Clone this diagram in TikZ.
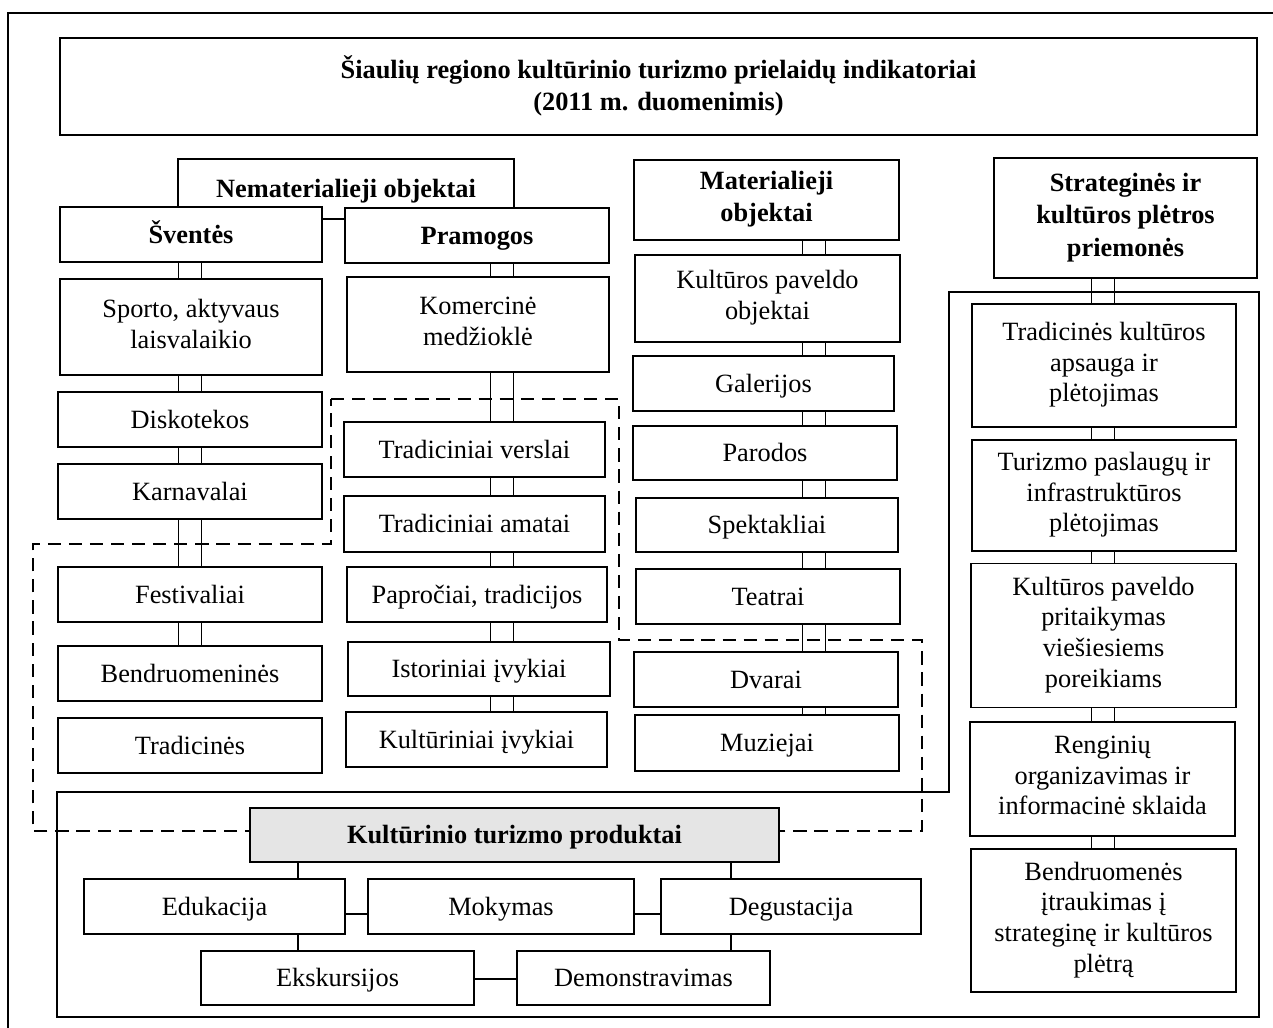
\documentclass[tikz,border=0pt]{standalone}
\usepackage{fontspec}
\setmainfont{Liberation Serif}
\usetikzlibrary{backgrounds}

\begin{document}
\begin{tikzpicture}[x=0.02cm, y=-0.02cm,
   bx/.style={draw, line width=1.1pt, fill=white, align=center, inner sep=0pt,
     font=\fontsize{15}{17.5}\selectfont,
     execute at begin node={\rule{0pt}{14pt}}, execute at end node={\rule[-4pt]{0pt}{4pt}}},
   hd/.style={bx, font=\fontsize{15}{18.5}\selectfont\bfseries},
   dbl/.style={draw, double, line width=1.1pt, double distance=12pt},
   ln/.style={draw, line width=1.1pt},
   grp/.style={draw, line width=1.5pt, dash pattern=on 7.5pt off 4.5pt},
   frm/.style={draw, line width=1.3pt}]
   \useasboundingbox (0,0) rectangle (1273,1027);
   % title
   \node[hd, minimum width=23.94cm, minimum height=1.94cm] (title) at (658.5,86.5) {Šiaulių regiono kultūrinio turizmo prielaidų indikatoriai\\(2011 m. duomenimis)};
   % nematerialieji
   \node[hd, minimum width=6.72cm, minimum height=1.2cm] (nemat) at (346,189) {Nematerialieji objektai};
   \node[hd, minimum width=5.24cm, minimum height=1.1cm] (svent) at (191,234.5) {Šventės};
   \node[hd, minimum width=5.28cm, minimum height=1.1cm] (pram) at (477,235.5) {Pramogos};
   \node[bx, minimum width=5.24cm, minimum height=1.92cm] (sport) at (191,327) {Sporto, aktyvaus\\laisvalaikio};
   \node[bx, minimum width=5.28cm, minimum height=1.1cm] (disk) at (190,419.5) {Diskotekos};
   \node[bx, minimum width=5.28cm, minimum height=1.1cm] (karn) at (190,491.5) {Karnavalai};
   \node[bx, minimum width=5.28cm, minimum height=1.1cm] (fest) at (190,594.5) {Festivaliai};
   \node[bx, minimum width=5.28cm, minimum height=1.1cm] (bendr) at (190,673.5) {Bendruomeninės};
   \node[bx, minimum width=5.28cm, minimum height=1.1cm] (tradc) at (190,745.5) {Tradicinės};
   \node[bx, minimum width=5.24cm, minimum height=1.9cm] (kom) at (478,324.5) {Komercinė\\medžioklė};
   \node[bx, minimum width=5.22cm, minimum height=1.1cm] (versl) at (474.5,449.5) {Tradiciniai verslai};
   \node[bx, minimum width=5.22cm, minimum height=1.12cm] (amat) at (474.5,524) {Tradiciniai amatai};
   \node[bx, minimum width=5.2cm, minimum height=1.1cm] (papr) at (477,594.5) {Papročiai, tradicijos};
   \node[bx, minimum width=5.24cm, minimum height=1.08cm] (istor) at (479,669) {Istoriniai įvykiai};
   \node[bx, minimum width=5.22cm, minimum height=1.1cm] (kultur) at (476.5,739.5) {Kultūriniai įvykiai};
   % materialieji
   \node[hd, minimum width=5.3cm, minimum height=1.6cm] (mat) at (766.5,200) {Materialieji\\objektai};
   \node[bx, minimum width=5.3cm, minimum height=1.74cm] (pav) at (767.5,298.5) {Kultūros paveldo\\objektai};
   \node[bx, minimum width=5.22cm, minimum height=1.1cm] (gal) at (763.5,383.5) {Galerijos};
   \node[bx, minimum width=5.28cm, minimum height=1.08cm] (parod) at (765,453) {Parodos};
   \node[bx, minimum width=5.24cm, minimum height=1.08cm] (spekt) at (767,525) {Spektakliai};
   \node[bx, minimum width=5.28cm, minimum height=1.1cm] (teat) at (768,596.5) {Teatrai};
   \node[bx, minimum width=5.28cm, minimum height=1.1cm] (dvar) at (766,679.5) {Dvarai};
   \node[bx, minimum width=5.28cm, minimum height=1.12cm] (muz) at (767,743) {Muziejai};
   % priemones
   \node[hd, minimum width=5.26cm, minimum height=2.4cm] (strat) at (1125.5,218) {Strateginės ir\\kultūros plėtros\\priemonės};
   \node[bx, minimum width=5.28cm, minimum height=2.46cm] (tkult) at (1104,365.5) {Tradicinės kultūros\\apsauga ir\\plėtojimas};
   \node[bx, minimum width=5.28cm, minimum height=2.22cm] (turiz) at (1104,495.5) {Turizmo paslaugų ir\\infrastruktūros\\plėtojimas};
   \node[bx, minimum width=5.3cm, minimum height=2.88cm] (pritaik) at (1103.5,635.5) {Kultūros paveldo\\pritaikymas\\viešiesiems\\poreikiams};
   \node[bx, minimum width=5.3cm, minimum height=2.28cm] (rengin) at (1102.5,779) {Renginių\\organizavimas ir\\informacinė sklaida};
   \node[bx, minimum width=5.3cm, minimum height=2.86cm] (bendruom) at (1103.5,920.5) {Bendruomenės\\įtraukimas į\\strateginę ir kultūros\\plėtrą};
   % produktai
   \node[hd, fill=gray!20, minimum width=10.58cm, minimum height=1.08cm] (prod) at (514.5,835) {Kultūrinio turizmo produktai};
   \node[bx, minimum width=5.22cm, minimum height=1.1cm] (eduk) at (214.5,906.5) {Edukacija};
   \node[bx, minimum width=5.32cm, minimum height=1.1cm] (mok) at (501,906.5) {Mokymas};
   \node[bx, minimum width=5.2cm, minimum height=1.1cm] (degust) at (791,906.5) {Degustacija};
   \node[bx, minimum width=5.46cm, minimum height=1.08cm] (eksk) at (337.5,978) {Ekskursijos};
   \node[bx, minimum width=5.06cm, minimum height=1.08cm] (demon) at (643.5,978) {Demonstravimas};

   \begin{scope}[on background layer]
   \coordinate (cA) at (190,0);
   \coordinate (cB) at (502,0);
   \coordinate (cC) at (814,0);
   \coordinate (cD) at (1103,0);
   \coordinate (cE) at (298,0);
   \coordinate (cF) at (731,0);
   \coordinate (rA) at (0,914);
   \coordinate (rB) at (0,979);
   \draw[dbl] (svent.south -| cA) -- (sport.north -| cA);
   \draw[dbl] (sport.south -| cA) -- (disk.north -| cA);
   \draw[dbl] (disk.south -| cA) -- (karn.north -| cA);
   \draw[dbl] (karn.south -| cA) -- (fest.north -| cA);
   \draw[dbl] (fest.south -| cA) -- (bendr.north -| cA);
   \draw[dbl] (pram.south -| cB) -- (kom.north -| cB);
   \draw[dbl] (kom.south -| cB) -- (versl.north -| cB);
   \draw[dbl] (versl.south -| cB) -- (amat.north -| cB);
   \draw[dbl] (amat.south -| cB) -- (papr.north -| cB);
   \draw[dbl] (papr.south -| cB) -- (istor.north -| cB);
   \draw[dbl] (istor.south -| cB) -- (kultur.north -| cB);
   \draw[dbl] (mat.south -| cC) -- (pav.north -| cC);
   \draw[dbl] (pav.south -| cC) -- (gal.north -| cC);
   \draw[dbl] (gal.south -| cC) -- (parod.north -| cC);
   \draw[dbl] (parod.south -| cC) -- (spekt.north -| cC);
   \draw[dbl] (spekt.south -| cC) -- (teat.north -| cC);
   \draw[dbl] (teat.south -| cC) -- (dvar.north -| cC);
   \draw[dbl] (dvar.south -| cC) -- (muz.north -| cC);
   \draw[dbl] (strat.south -| cD) -- (tkult.north -| cD);
   \draw[dbl] (tkult.south -| cD) -- (turiz.north -| cD);
   \draw[dbl] (turiz.south -| cD) -- (pritaik.north -| cD);
   \draw[dbl] (pritaik.south -| cD) -- (rengin.north -| cD);
   \draw[dbl] (rengin.south -| cD) -- (bendruom.north -| cD);
   \draw[ln] (prod.south -| cE) -- (eduk.north -| cE);
   \draw[ln] (prod.south -| cF) -- (degust.north -| cF);
   \draw[ln] (eduk.south -| cE) -- (eksk.north -| cE);
   \draw[ln] (degust.south -| cF) -- (demon.north -| cF);
   \draw[ln] (eduk.east |- rA) -- (mok.west |- rA);
   \draw[ln] (mok.east |- rA) -- (degust.west |- rA);
   \draw[ln] (eksk.east |- rB) -- (demon.west |- rB);
   % frames
   \draw[grp] (331,399) -- (619,399) -- (619,640) -- (922,640) -- (922,831) -- (33,831) -- (33,544) -- (331,544) -- cycle;
   \draw[frm] (57,792) -- (949,792) -- (949,292) -- (1259,292) -- (1259,1017) -- (57,1017) -- cycle;
   \draw[line width=0.9pt] (8,1040) -- (8,13) -- (1290,13);
   \end{scope}
\end{tikzpicture}
\end{document}
